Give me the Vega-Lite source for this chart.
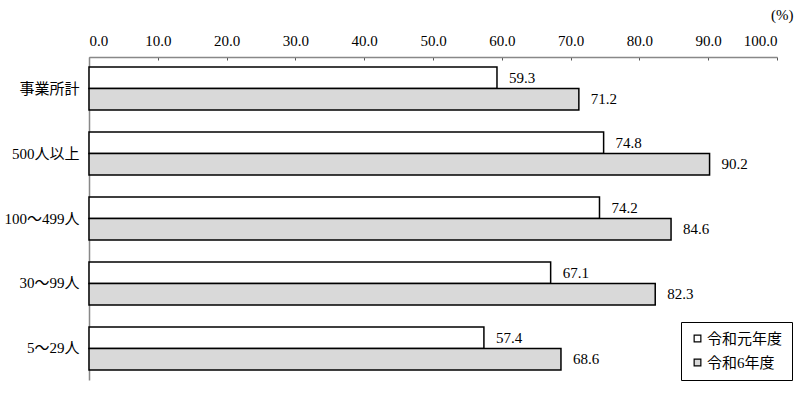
{
  "$schema": "https://vega.github.io/schema/vega-lite/v6.json",
  "autosize": {"type": "none"},
  "padding": {"left": 89, "top": 57, "right": 23, "bottom": 14},
  "width": 688,
  "height": 323,
  "background": "white",
  "config": {
    "font": "Liberation Serif, Noto Sans CJK JP",
    "view": {"stroke": null}
  },
  "data": {
    "values": [
      {"cat": "事業所計", "year": "令和元年度", "value": 59.3},
      {"cat": "事業所計", "year": "令和6年度", "value": 71.2},
      {"cat": "500人以上", "year": "令和元年度", "value": 74.8},
      {"cat": "500人以上", "year": "令和6年度", "value": 90.2},
      {"cat": "100～499人", "year": "令和元年度", "value": 74.2},
      {"cat": "100～499人", "year": "令和6年度", "value": 84.6},
      {"cat": "30～99人", "year": "令和元年度", "value": 67.1},
      {"cat": "30～99人", "year": "令和6年度", "value": 82.3},
      {"cat": "5～29人", "year": "令和元年度", "value": 57.4},
      {"cat": "5～29人", "year": "令和6年度", "value": 68.6}
    ]
  },
  "encoding": {
    "y": {
      "field": "cat", "type": "nominal",
      "sort": ["事業所計", "500人以上", "100～499人", "30～99人", "5～29人"],
      "scale": {"paddingInner": 0.34, "paddingOuter": 0.155},
      "axis": {
        "title": null, "ticks": false, "domainColor": "#888888", "domainWidth": 1.5,
        "labelFont": "Liberation Serif, Noto Sans CJK JP", "labelFontSize": 15,
        "labelColor": "black", "labelPadding": 10
      }
    },
    "yOffset": {
      "field": "year", "type": "nominal",
      "sort": ["令和元年度", "令和6年度"],
      "scale": {"paddingInner": 0, "paddingOuter": 0}
    },
    "x": {
      "field": "value", "type": "quantitative",
      "scale": {"domain": [0, 100], "nice": false},
      "axis": {
        "orient": "top", "values": [0, 10, 20, 30, 40, 50, 60, 70, 80, 90, 100],
        "format": ".1f", "grid": false, "domainColor": "#888888", "domainWidth": 1.5,
        "tickColor": "#555555", "tickSize": -3, "labelPadding": 12,
        "labelFont": "Liberation Serif, Noto Sans CJK JP", "labelFontSize": 15, "labelColor": "black",
        "title": "(%)", "titleX": 704, "titleY": -43, "titleAlign": "right",
        "titleBaseline": "middle", "titleFontWeight": "normal", "titleFontSize": 15,
        "titleFont": "Liberation Serif, Noto Sans CJK JP", "titleAngle": 0
      }
    }
  },
  "layer": [
    {
      "mark": {"type": "bar", "stroke": "black", "strokeWidth": 1.5},
      "encoding": {
        "fill": {
          "field": "year", "type": "nominal",
          "scale": {"domain": ["令和元年度", "令和6年度"], "range": ["white", "#d9d9d9"]},
          "legend": {
            "title": null, "orient": "none", "legendX": 592, "legendY": 265,
            "strokeColor": "black", "padding": 9, "symbolType": "square",
            "symbolStrokeColor": "black", "symbolStrokeWidth": 1.2, "symbolSize": 45,
            "labelFont": "Liberation Serif, Noto Sans CJK JP", "labelFontSize": 15,
            "labelColor": "black", "rowPadding": 8, "symbolOffset": 0, "labelOffset": 2
          }
        }
      }
    },
    {
      "mark": {"type": "text", "align": "left", "dx": 12, "fontSize": 15, "color": "black", "font": "Liberation Serif"},
      "encoding": {
        "text": {"field": "value", "type": "quantitative", "format": ".1f"}
      }
    }
  ]
}
